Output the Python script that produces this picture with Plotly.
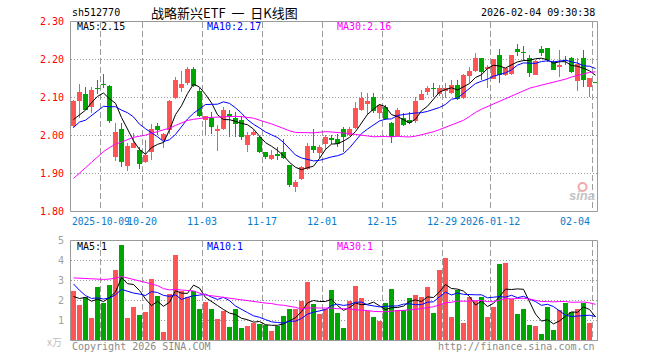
import plotly.graph_objects as go
import pandas as pd

W, H = 660, 360

# ---------------- data ----------------
opens = [2.025,2.092,2.109,2.074,2.125,2.136,2.130,1.944,2.016,1.920,
         1.968,1.963,1.931,1.957,2.025,1.988,2.014,2.100,2.125,2.137,
         2.174,2.118,2.042,2.047,2.012,2.018,2.056,2.047,2.040,1.975,
         2.001,1.996,1.956,1.938,1.951,1.956,1.922,1.865,1.885,1.913,
         1.972,1.953,1.977,1.993,1.992,2.016,2.001,2.020,2.067,2.084,
         2.101,2.058,2.076,2.033,2.000,2.047,2.042,2.038,2.094,2.115,
         2.126,2.108,2.116,2.112,2.132,2.099,2.156,2.170,2.204,2.175,
         2.150,2.211,2.160,2.162,2.228,2.220,2.203,2.160,2.228,2.229,
         2.193,2.180,2.200,2.203,2.143,2.205,2.128,2.140]
highs = [2.093,2.135,2.128,2.128,2.146,2.161,2.132,2.033,2.032,1.979,
         2.007,1.970,1.988,2.030,2.032,2.007,2.093,2.154,2.170,2.181,
         2.179,2.124,2.051,2.062,2.027,2.074,2.067,2.062,2.051,2.010,
         2.014,2.000,1.957,1.961,1.970,1.992,1.922,1.882,1.919,1.979,
         2.016,1.975,2.001,2.001,2.005,2.023,2.023,2.087,2.115,2.111,
         2.112,2.084,2.079,2.035,2.072,2.058,2.062,2.102,2.119,2.130,
         2.139,2.132,2.139,2.146,2.146,2.161,2.181,2.216,2.205,2.185,
         2.202,2.228,2.178,2.213,2.240,2.236,2.211,2.198,2.236,2.230,
         2.199,2.225,2.210,2.206,2.203,2.226,2.152,2.141]
lows = [2.020,2.045,2.067,2.058,2.109,2.124,2.033,1.933,1.918,1.907,
        1.966,1.911,1.928,1.935,2.001,1.966,2.005,2.097,2.115,2.132,
        2.128,2.049,2.001,2.004,1.960,2.014,1.995,1.995,1.988,1.957,
        2.000,1.953,1.937,1.935,1.935,1.939,1.865,1.852,1.882,1.909,
        1.953,1.940,1.961,1.977,1.970,1.957,1.998,2.018,2.065,2.054,
        2.060,2.044,2.040,1.981,1.996,2.025,2.030,2.032,2.093,2.106,
        2.102,2.104,2.100,2.110,2.093,2.097,2.137,2.168,2.146,2.124,
        2.148,2.139,2.156,2.160,2.209,2.196,2.155,2.158,2.208,2.194,
        2.172,2.155,2.185,2.164,2.117,2.128,2.102,2.138]
closes = [2.090,2.115,2.068,2.119,2.123,2.134,2.039,2.009,1.931,1.972,
          1.979,1.924,1.948,2.018,2.014,2.005,2.090,2.147,2.135,2.174,
          2.130,2.051,2.051,2.023,2.018,2.067,2.049,2.030,1.995,2.001,
          2.010,1.956,1.944,1.948,1.946,1.940,1.869,1.878,1.917,1.972,
          1.961,1.970,1.996,1.988,1.977,1.996,2.018,2.072,2.100,2.092,
          2.064,2.080,2.043,1.996,2.067,2.027,2.033,2.090,2.109,2.126,
          2.122,2.124,2.124,2.132,2.097,2.160,2.170,2.204,2.168,2.181,
          2.201,2.160,2.177,2.211,2.220,2.218,2.164,2.197,2.218,2.199,
          2.172,2.185,2.197,2.168,2.189,2.146,2.151,2.139]
volumes = [2.5,1.8,2.17,1.15,2.7,1.9,2.8,3.55,4.8,1.15,
           1.7,1.3,1.45,3.1,2.25,0.45,2.33,4.3,2.5,2.2,
           2.5,1.6,1.95,1.6,1.1,1.5,0.7,1.6,0.65,0.75,
           0.9,0.85,0.8,0.5,0.75,1.25,1.6,1.6,2.0,2.95,
           1.85,1.35,1.6,2.55,1.4,0.65,2.0,2.75,2.15,1.5,
           1.2,1.0,1.9,2.6,1.55,1.55,2.15,2.3,2.2,2.7,
           1.4,3.55,4.15,1.2,2.55,0.9,2.2,2.0,2.2,1.2,
           1.7,3.85,3.9,2.1,1.35,1.6,0.8,0.75,0.35,1.7,
           0.55,1.55,1.9,1.45,1.6,1.9,0.9,0.05]

# sessions before the visible window (estimated from the MA lines' start)
prior_close = [1.66,1.68,1.69,1.70,1.71,1.72,1.74,1.76,1.76,
               1.82,1.84,1.86,1.87,1.89,1.90,1.92,1.93,1.95,1.97,2.03,
               1.97,2.02,1.99,2.00,2.02,
               2.05,2.01,2.02,2.04]
prior_volume = [2.2,2.5,2.3,2.4,2.6,2.2,2.3,2.3,
                3.2,3.6,3.3,4.5,5.2,4.8,5.0,4.2,3.6,3.4,3.0,3.0,
                5.0,4.8,2.6,2.4,2.5,
                2.3,1.9,2.1,2.2]

tick_slots = [5, 12, 22, 32, 42, 52, 62, 70, 87]
tick_labels = ["2025-10-09", "10-20", "11-03", "11-17", "12-01",
               "12-15", "12-29", "2026-01-12", "02-04"]

price_ticks = [1.80, 1.90, 2.00, 2.10, 2.20, 2.30]
vol_ticks = [1, 2, 3, 4, 5]

ma_price_text = ["MA5:2.15", "MA10:2.17", "MA30:2.16"]
ma_vol_text = ["MA5:1", "MA10:1", "MA30:1"]

# ---------------- derived ----------------
n = len(closes)
slots = list(range(n))
RED, GREEN = "#ff5454", "#00a600"
up = [c >= o for o, c in zip(opens, closes)]
colors = [RED if u else GREEN for u in up]

all_close = pd.Series(prior_close + closes)
all_vol = pd.Series(prior_volume + volumes)
k = len(prior_close)
ma = {p: all_close.rolling(p).mean().tolist()[k:] for p in (5, 10, 30)}
vma = {p: all_vol.rolling(p).mean().tolist()[k:] for p in (5, 10, 30)}

MINB = 0.0026
body_base = [min(o, c) for o, c in zip(opens, closes)]
body_h = [max(abs(c - o), MINB) for o, c in zip(opens, closes)]
wick_h = [h - l for h, l in zip(highs, lows)]

MA_COLORS = {5: "#000000", 10: "#0000ff", 30: "#ff00ff"}

fig = go.Figure()
# wicks
fig.add_trace(go.Bar(x=slots, y=wick_h, base=lows, width=1/6,
                     marker=dict(color=colors, line=dict(width=0)),
                     xaxis="x", yaxis="y", hoverinfo="skip"))
# bodies
fig.add_trace(go.Bar(x=slots, y=body_h, base=body_base, width=5/6,
                     marker=dict(color=colors, line=dict(width=0)),
                     xaxis="x", yaxis="y", hoverinfo="skip"))
for p in (5, 10, 30):
    fig.add_trace(go.Scatter(x=slots, y=ma[p], mode="lines",
                             line=dict(color=MA_COLORS[p], width=1),
                             xaxis="x", yaxis="y", hoverinfo="skip"))
# volume
fig.add_trace(go.Bar(x=slots, y=volumes, width=5/6,
                     marker=dict(color=colors, line=dict(width=0)),
                     xaxis="x2", yaxis="y2", hoverinfo="skip"))
for p in (5, 10, 30):
    fig.add_trace(go.Scatter(x=slots, y=vma[p], mode="lines",
                             line=dict(color=MA_COLORS[p], width=1),
                             xaxis="x2", yaxis="y2", hoverinfo="skip"))

def px(x):
    return x / W

def py(y):
    return 1 - y / H

XL, XR = 70.5, 598.5
M_TOP, M_BOT = 21.5, 211.5
V_TOP, V_BOT = 240.5, 340.5
GRID = "#9c9c9c"
xgrid = [s - 0.5 for s in tick_slots]

common_x = dict(range=[-0.5, n - 0.5], domain=[px(XL), px(XR)],
                tickmode="array", tickvals=xgrid, showticklabels=False,
                showgrid=True, gridcolor=GRID, griddash="6px,3px", gridwidth=1,
                zeroline=False, showline=False, ticks="", fixedrange=True)
fig.update_layout(
    width=W, height=H, autosize=False,
    margin=dict(l=0, r=0, t=0, b=0, pad=0),
    paper_bgcolor="white", plot_bgcolor="white",
    showlegend=False, barmode="overlay", bargap=0,
    xaxis=dict(**common_x, anchor="y"),
    xaxis2=dict(**common_x, anchor="y2"),
    yaxis=dict(range=[1.80, 2.30], domain=[py(M_BOT), py(M_TOP)],
               tickmode="array", tickvals=price_ticks[1:-1], showticklabels=False,
               showgrid=True, gridcolor=GRID, griddash="1px,2px", gridwidth=1,
               zeroline=False, showline=False, ticks="", anchor="x", fixedrange=True),
    yaxis2=dict(range=[0, 5], domain=[py(V_BOT), py(V_TOP)],
                tickmode="array", tickvals=vol_ticks[:-1], showticklabels=False,
                showgrid=True, gridcolor=GRID, griddash="1px,2px", gridwidth=1,
                zeroline=False, showline=False, ticks="", anchor="x2", fixedrange=True),
)

BORDER = "#9a9a9a"
fig.add_shape(type="rect", xref="paper", yref="paper",
              x0=px(XL), x1=px(XR - 1), y0=py(M_BOT), y1=py(M_TOP),
              line=dict(color=BORDER, width=1), layer="above")
fig.add_shape(type="rect", xref="paper", yref="paper",
              x0=px(XL), x1=px(XR - 1), y0=py(V_BOT), y1=py(V_TOP),
              line=dict(color=BORDER, width=1), layer="above")

MONO = "DejaVu Sans Mono"
anns = []

def txt(text, x, y, color="#000", size=10, xanchor="left", family=MONO, yref="paper", xref="paper"):
    anns.append(dict(text=text, x=x, y=y, xref=xref, yref=yref, showarrow=False,
                     xanchor=xanchor, yanchor="middle",
                     font=dict(family=family, size=size, color=color)))

# header
txt("sh512770", px(70), py(13))
txt("战略新兴ETF&nbsp;&nbsp;一&nbsp;&nbsp;日K线图", px(149), py(13), size=13,
    family="Noto Sans CJK SC")
txt("2026-02-04 09:30:38", px(597), py(13), xanchor="right")

# MA labels
for t, p, x0 in zip(ma_price_text, (5, 10, 30), (75, 205, 335)):
    txt(t, px(x0), py(26.5), color=MA_COLORS[p])
for t, p, x0 in zip(ma_vol_text, (5, 10, 30), (75, 205, 335)):
    txt(t, px(x0), py(246.5), color=MA_COLORS[p])

# price axis labels (red)
for v in price_ticks:
    txt(f"{v:.2f}", px(66), v, color="#ff0000", xanchor="right", yref="y")
# volume axis labels
for v in vol_ticks:
    txt(str(v), px(66), v, color="#a0a0a0", xanchor="right", yref="y2")
txt("x万", px(63.5), py(341.5), color="#c0c0c0", size=10, xanchor="right",
    family="Noto Sans CJK SC")

# date labels
DATE_C = "#0a7ccc"
for s, lab in zip(tick_slots, tick_labels):
    if s == tick_slots[0]:
        txt(lab, px(69.5), py(221.5), color=DATE_C, size=9.6)
    elif s == tick_slots[-1]:
        txt(lab, px(591.5), py(221.5), color=DATE_C, xanchor="right")
    else:
        txt(lab, s - 0.5 - 1 / 6, py(221.5), color=DATE_C, xanchor="center", xref="x")

# footer
txt("Copyright 2026 SINA.COM", px(70), py(346), color="#8a8a8a")
txt("http://finance.sina.com.cn", px(597), py(346), color="#8a8a8a", xanchor="right")

# sina watermark
fig.add_shape(type="circle", xref="paper", yref="paper",
              x0=px(578.5), x1=px(586.5), y0=py(191), y1=py(183),
              line=dict(color="#f2a8a8", width=2), layer="above")
txt("sina", px(597), py(195), color="#c4c4c4", size=13, xanchor="right",
    family="Liberation Sans")
anns[-1]["font"]["weight"] = "bold"
anns[-1]["font"]["style"] = "italic"

fig.update_layout(annotations=anns)

fig.write_html("out.html", config={"displayModeBar": False, "staticPlot": True},
               post_script="document.body.style.margin='0';document.body.style.padding='0';"
                           "document.documentElement.style.overflow='hidden';")
